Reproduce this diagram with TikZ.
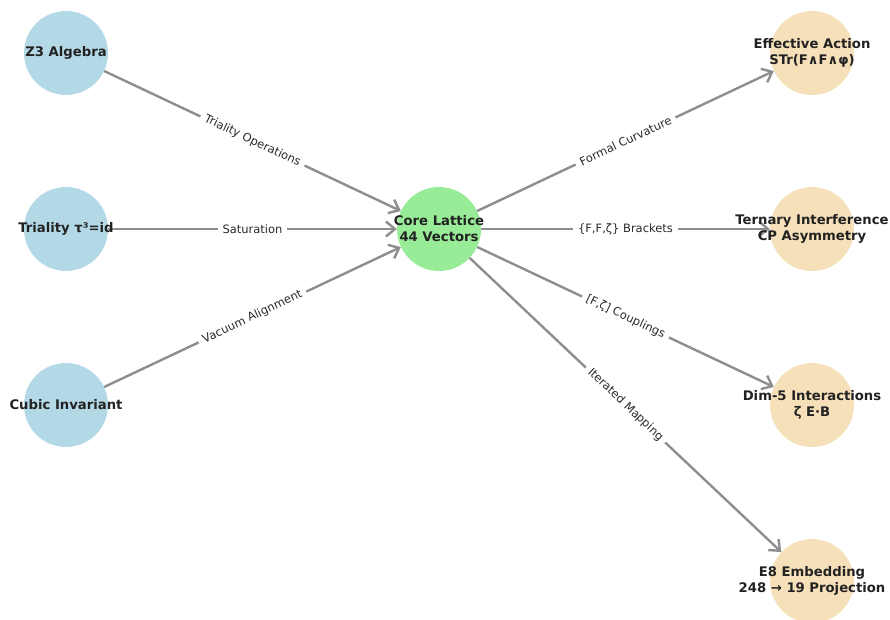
\documentclass[tikz,border=0pt]{standalone}
\usepackage{fontspec}
\setmainfont{DejaVu Sans}
\usetikzlibrary{arrows.meta}
\definecolor{inblue}{HTML}{B3D9E6}
\definecolor{coregreen}{HTML}{98EC98}
\definecolor{outwheat}{HTML}{F6E0BA}
\definecolor{edgegray}{HTML}{8E8E8E}
\definecolor{txtdark}{HTML}{222222}
\definecolor{lbldark}{HTML}{2A2A2A}
\tikzset{
  circ/.style={circle, minimum size=84pt, inner sep=0pt, draw=none},
  ntext/.style={text=txtdark, font=\fontsize{13.2}{16}\selectfont\bfseries, align=center, inner sep=0pt},
  conn/.style={draw=edgegray, line width=2.4pt, -{Straight Barb[length=9pt,width=15pt,line width=2.4pt]}},
  elabel/.style={midway, sloped, fill=white, text=lbldark, inner xsep=5pt, inner ysep=2pt, font=\fontsize{11.5}{13}\selectfont}
}
\begin{document}
\begin{tikzpicture}[x=1pt,y=-1pt]
\useasboundingbox (0,0) rectangle (890,620);
\node[circ, fill=inblue] (z3) at (66,53) {};
\node[circ, fill=inblue] (tri) at (66,229) {};
\node[circ, fill=inblue] (cub) at (66,405) {};
\node[circ, fill=coregreen] (core) at (439,229) {};
\node[circ, fill=outwheat] (eff) at (812,53) {};
\node[circ, fill=outwheat] (ter) at (812,229) {};
\node[circ, fill=outwheat] (dim) at (812,405) {};
\node[circ, fill=outwheat] (e8) at (812,581) {};

\draw[conn] (z3) -- node[elabel] {Triality Operations} (core);
\draw[conn] (tri) -- node[elabel] {Saturation} (core);
\draw[conn] (cub) -- node[elabel] {Vacuum Alignment} (core);
\draw[conn] (core) -- node[elabel] {Formal Curvature} (eff);
\draw[conn] (core) -- node[elabel] {\{F,F,ζ\} Brackets} (ter);
\draw[conn] (core) -- node[elabel] {[F,ζ] Couplings} (dim);
\draw[conn] (core) -- node[elabel] {Iterated Mapping} (e8);

\node[ntext] (z3t) at (z3) {Z3 Algebra};
\node[ntext] (trit) at (tri) {Triality τ³=id};
\node[ntext] (cubt) at (cub) {Cubic Invariant};
\node[ntext] (coret) at (core) {Core Lattice\\44 Vectors};
\node[ntext] (efft) at (eff) {Effective Action\\STr(F∧F∧φ)};
\node[ntext] (tert) at (ter) {Ternary Interference\\CP Asymmetry};
\node[ntext] (dimt) at (dim) {Dim-5 Interactions\\ζ E·B};
\node[ntext] (e8t) at (e8) {E8 Embedding\\248 → 19 Projection};
\end{tikzpicture}
\end{document}
